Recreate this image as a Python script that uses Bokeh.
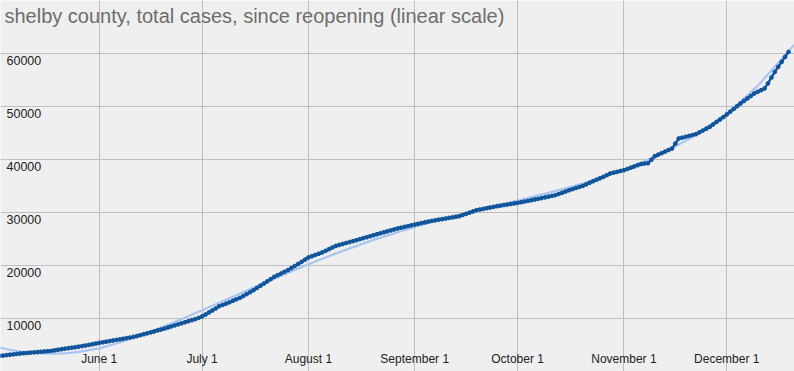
import pandas as pd
from bokeh.plotting import figure
from bokeh.models import Range1d, FixedTicker, Label, ColumnDataSource
from bokeh.core.properties import value
from bokeh.embed import file_html
from bokeh.resources import INLINE

# ---------------- data ----------------
start_date = "2020-05-03"
may = [2940, 3010, 3090, 3170, 3240, 3320, 3400, 3450, 3500, 3560, 3610, 3670, 3720, 3780, 3830,
       3890, 3990, 4100, 4200, 4310, 4400, 4490, 4580, 4680, 4790, 4900, 5020, 5140, 5270]
june = [5400, 5510, 5620, 5740, 5850, 5960, 6070, 6180, 6300, 6410, 6530, 6690, 6860, 7030, 7200,
        7380, 7550, 7740, 7920, 8100, 8300, 8500, 8700, 8900, 9090, 9290, 9480, 9680, 9880, 10120]
july = [10400, 10750, 11150, 11520, 11900, 12320, 12560, 12800, 13060, 13350, 13620, 13890, 14230,
        14600, 14970, 15340, 15760, 16180, 16590, 17000, 17420, 17850, 18160, 18480, 18800, 19110,
        19500, 19890, 20280, 20680, 21100]
august = [21510, 21750, 21980, 22220, 22450, 22760, 23080, 23390, 23700, 23880, 24060, 24240, 24410,
          24590, 24770, 24960, 25150, 25340, 25520, 25710, 25900, 26080, 26260, 26440, 26620, 26800,
          26980, 27130, 27280, 27430, 27580]
september = [27730, 27870, 28010, 28150, 28290, 28420, 28530, 28640, 28750, 28860, 28970, 29080,
             29190, 29300, 29530, 29750, 29980, 30200, 30430, 30560, 30690, 30810, 30940, 31060,
             31190, 31290, 31400, 31500, 31600, 31710]
october = [31810, 31940, 32070, 32190, 32320, 32450, 32580, 32720, 32850, 32990, 33120, 33260, 33490,
           33730, 33960, 34200, 34400, 34610, 34810, 35020, 35310, 35610, 35900, 36170, 36450, 36720,
           37040, 37360, 37520, 37670, 37830]
november = [37980, 38210, 38450, 38680, 38920, 39150, 39230, 39300, 39950, 40620, 40910, 41200, 41490,
            41780, 42070, 43000, 43960, 44120, 44280, 44450, 44610, 44770, 45120, 45460, 45810, 46150,
            46610, 47080, 47540, 48000]
december = [48500, 49020, 49530, 50050, 50570, 51040, 51510, 51980, 52450, 52770, 53080, 53400,
            54350, 55450, 56530, 57480, 58420, 59360, 60300]

trend_dates = ["2020-05-03 00:00", "2020-05-06 00:00", "2020-05-09 00:00", "2020-05-13 00:00",
               "2020-05-17 00:00", "2020-05-22 00:00", "2020-05-26 00:00", "2020-06-01 00:00",
               "2020-06-08 00:00", "2020-06-15 00:00", "2020-06-22 00:00", "2020-07-01 00:00",
               "2020-07-10 00:00", "2020-07-20 00:00", "2020-08-01 00:00", "2020-08-10 00:00",
               "2020-08-20 00:00", "2020-09-01 00:00", "2020-09-10 00:00", "2020-09-20 00:00",
               "2020-10-01 00:00", "2020-10-10 00:00", "2020-10-20 00:00", "2020-11-01 00:00",
               "2020-11-10 00:00", "2020-11-20 00:00", "2020-12-01 00:00", "2020-12-10 00:00",
               "2020-12-20 18:00"]
trend_values = [4530, 4100, 3770, 3470, 3350, 3430, 3690, 4360, 5660, 7260, 9060, 11560, 14110,
                16960, 20240, 22520, 24840, 27290, 28900, 30530, 32260, 33710, 35460, 38020, 40490,
                43840, 48550, 53880, 61700]

month_ticks = ["2020-06-01", "2020-07-01", "2020-08-01", "2020-09-01", "2020-10-01", "2020-11-01",
               "2020-12-01"]
month_labels = ["June 1", "July 1", "August 1", "September 1", "October 1", "November 1",
                "December 1"]
y_ticks = [10000, 20000, 30000, 40000, 50000, 60000]
y_labels = ["10000", "20000", "30000", "40000", "50000", "60000"]

title_text = "shelby county, total cases, since reopening (linear scale)"

# ---------------- build ----------------
cases = may + june + july + august + september + october + november + december
dates = pd.date_range(start_date, periods=len(cases), freq="D")
trend_x = pd.to_datetime(trend_dates, format="%Y-%m-%d %H:%M")
tick_ms = [pd.Timestamp(t).value // 10**6 for t in month_ticks]

x_start = pd.Timestamp("2020-05-03 05:17")
x_end = pd.Timestamp("2020-12-20 17:45")

W, H = 794, 371
p = figure(width=W, height=H, x_axis_type="datetime", x_axis_location="above",
           x_range=Range1d(x_start, x_end), y_range=Range1d(0, 70000),
           output_backend="svg", toolbar_location=None, min_border=0)

p.background_fill_color = "#efefef"
p.border_fill_color = "#efefef"
p.outline_line_color = None

# grid
p.xgrid.ticker = FixedTicker(ticks=tick_ms)
p.ygrid.ticker = FixedTicker(ticks=y_ticks)
for g in (p.xgrid, p.ygrid):
    g.grid_line_color = "#bebebe"
    g.grid_line_width = 1

# x axis drawn inside the frame at y = 0
xa = p.xaxis[0]
xa.fixed_location = 0
xa.ticker = FixedTicker(ticks=tick_ms)
xa.major_label_overrides = {ms: lab for ms, lab in zip(tick_ms, month_labels)}
xa.axis_line_color = None
xa.major_tick_line_color = None
xa.minor_tick_line_color = None
xa.major_tick_in = 0
xa.major_tick_out = 0
xa.major_label_standoff = 6
xa.major_label_text_font = "Liberation Sans"
xa.major_label_text_font_size = "12px"
xa.major_label_text_color = "#222222"

p.yaxis.visible = False

# y tick labels inside the frame, under each gridline
ysrc = ColumnDataSource(dict(x=[x_start] * len(y_ticks), y=y_ticks, t=y_labels))
p.text(x="x", y="y", text="t", source=ysrc, x_offset=6, y_offset=2,
       text_baseline="top", text_align="left", text_font=value("Liberation Sans"),
       text_font_size="12.5px", text_color="#222222")

# trend line
p.line(trend_x, trend_values, line_color="#a9c6f3", line_width=2.2)

# cases
p.line(dates, cases, line_color="#11559c", line_width=2.4)
p.scatter(dates, cases, marker="circle", size=3.8, fill_color="#11559c", line_color="#11559c")

# title inside the plot
p.add_layout(Label(x=4, y=H - 4, x_units="screen", y_units="screen", text=title_text,
                   text_baseline="top", text_font="Liberation Sans", text_font_size="20px",
                   text_color="#6d6d6d"))

open("out.html", "w").write(file_html(p, INLINE))
